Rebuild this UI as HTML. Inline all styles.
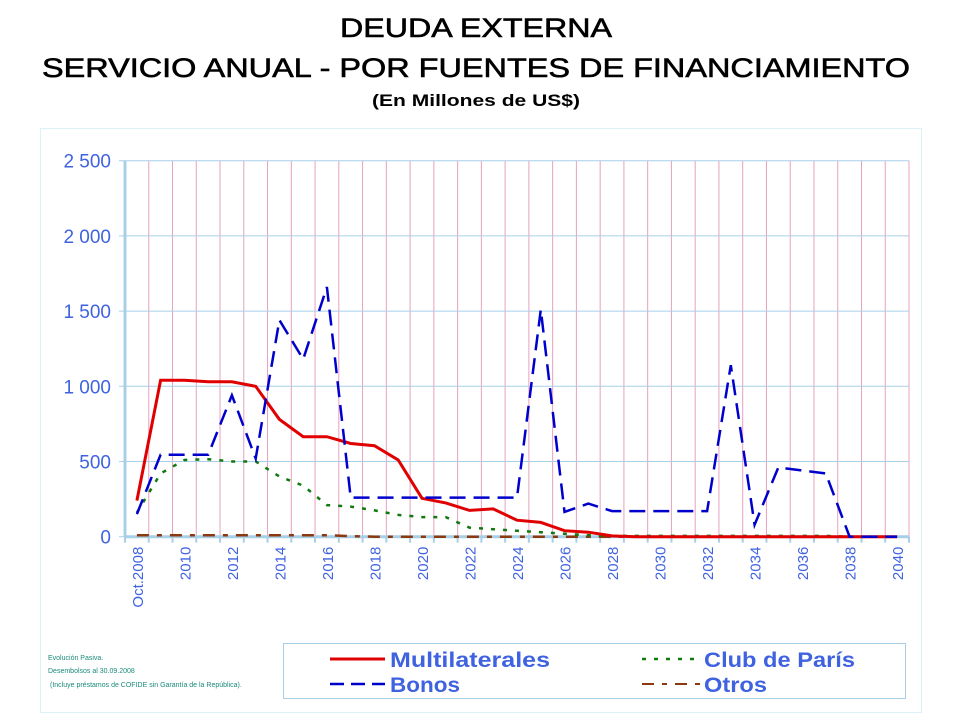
<!DOCTYPE html>
<html><head><meta charset="utf-8"><style>
body{margin:0;background:#fff;width:960px;height:720px;overflow:hidden;font-family:"Liberation Sans",sans-serif}
</style></head><body>
<svg id="s" width="960" height="720" xmlns="http://www.w3.org/2000/svg" font-family="Liberation Sans, sans-serif">
<text x="340" y="37" font-size="27" textLength="272" lengthAdjust="spacingAndGlyphs" stroke="#000" stroke-width="0.6">DEUDA EXTERNA</text>
<text x="42" y="77" font-size="27" textLength="868" lengthAdjust="spacingAndGlyphs" stroke="#000" stroke-width="0.6">SERVICIO ANUAL - POR FUENTES DE FINANCIAMIENTO</text>
<text x="372" y="106" font-size="17" font-weight="bold" textLength="208" lengthAdjust="spacingAndGlyphs">(En Millones de US$)</text>
<rect x="40.5" y="128.5" width="881" height="584" fill="none" stroke="#ddf2f8" stroke-width="1"/>
<g id="g"></g>
<rect x="283.5" y="643.5" width="622" height="55" fill="#fff" stroke="#a8cfe8"/>
<line x1="330" y1="659" x2="385" y2="659" stroke="#e00000" stroke-width="3"/>
<line x1="330" y1="684" x2="385" y2="684" stroke="#0000cc" stroke-width="2.5" stroke-dasharray="14,7"/>
<line x1="642" y1="659" x2="700" y2="659" stroke="#107a10" stroke-width="2.5" stroke-dasharray="4,8"/>
<line x1="642" y1="684" x2="700" y2="684" stroke="#8b3a10" stroke-width="2" stroke-dasharray="12,8,5,8"/>
<g font-size="21" font-weight="bold" fill="#3f62e0">
<text x="390" y="667" textLength="160" lengthAdjust="spacingAndGlyphs">Multilaterales</text><text x="390" y="692" textLength="70" lengthAdjust="spacingAndGlyphs">Bonos</text>
<text x="704" y="667" textLength="151" lengthAdjust="spacingAndGlyphs">Club de París</text><text x="704" y="692" textLength="63" lengthAdjust="spacingAndGlyphs">Otros</text></g>
<g font-size="7" fill="#1a8a7a"><text x="48" y="660">Evolución Pasiva.</text><text x="48" y="673">Desembolsos al 30.09.2008</text><text x="50" y="687">(Incluye préstamos de COFIDE sin Garantía de la República).</text></g>
</svg>
<script>
var g=document.getElementById('g'),h='';
var L=125,R=909,T=160.7,B=536.7,w=(R-L)/33,k=(B-T)/2500;
function Y(v){return B-v*k}function X(i){return L+w*(i+0.5)}
for(var i=1;i<=33;i++){var x=L+w*i;h+='<line x1="'+x+'" y1="'+T+'" x2="'+x+'" y2="'+B+'" stroke="#e8a0c0" stroke-width="1"/>';}
for(var v=0;v<=2500;v+=500){var y=Y(v);h+='<line x1="'+(L-6)+'" y1="'+y+'" x2="'+R+'" y2="'+y+'" stroke="#a8cfe8" stroke-width="1"/>';
h+='<text x="'+(L-14)+'" y="'+(y+7)+'" text-anchor="end" font-size="19" fill="#3f62e0">'+(v>=1000?Math.floor(v/1000)+' '+String(v%1000).padStart(3,'0'):v)+'</text>';}
h+='<line x1="'+L+'" y1="'+T+'" x2="'+L+'" y2="'+B+'" stroke="#a8cfe8" stroke-width="3"/>';
h+='<line x1="'+L+'" y1="'+B+'" x2="'+R+'" y2="'+B+'" stroke="#a8cfe8" stroke-width="3"/>';
for(var i=0;i<=33;i++){var x=L+w*i;h+='<line x1="'+x+'" y1="'+B+'" x2="'+x+'" y2="'+(B+6)+'" stroke="#a8cfe8" stroke-width="2"/>';}
for(var i=0;i<=32;i+=2){var x=X(i)+6,lab=i==0?'Oct.2008':String(2008+i);
h+='<text transform="translate('+x+','+(B+10)+') rotate(-90)" text-anchor="end" font-size="15" fill="#3f62e0">'+lab+'</text>';}
var M=[240,1040,1040,1030,1030,1000,780,665,665,620,605,510,255,225,175,185,110,95,40,30,5,0,0,0,0,0,0,0,0,0,0,0,0];
var Bo=[150,545,545,545,940,520,1440,1180,1660,260,260,260,260,260,260,260,260,1510,165,220,170,170,170,170,170,1140,80,460,440,420,0,0,0];
var C=[160,420,510,515,500,500,400,340,210,200,175,145,130,130,60,50,40,30,20,10,5,5,5,5,5,5,5,5,5,5,0,0,0];
var O=[10,10,10,10,10,10,10,10,10,3,0,0,0,0,0,0,0,0,0,0,0,0,0,0,0,0,0,0,0,0,0,0,0];
function P(d,c,sw,da){var p=d.map(function(v,i){return X(i).toFixed(1)+','+Y(v).toFixed(1)}).join(' ');
return '<polyline points="'+p+'" fill="none" stroke="'+c+'" stroke-width="'+sw+'"'+(da?' stroke-dasharray="'+da+'"':'')+'/>';}
h+=P(O,'#8b3a10',2.5,'12,8,5,8');h+=P(C,'#107a10',2.5,'4,8');h+=P(M,'#e00000',3,'');h+=P(Bo,'#0000cc',2.5,'16,8');
g.innerHTML=h;
</script>
</body></html>
